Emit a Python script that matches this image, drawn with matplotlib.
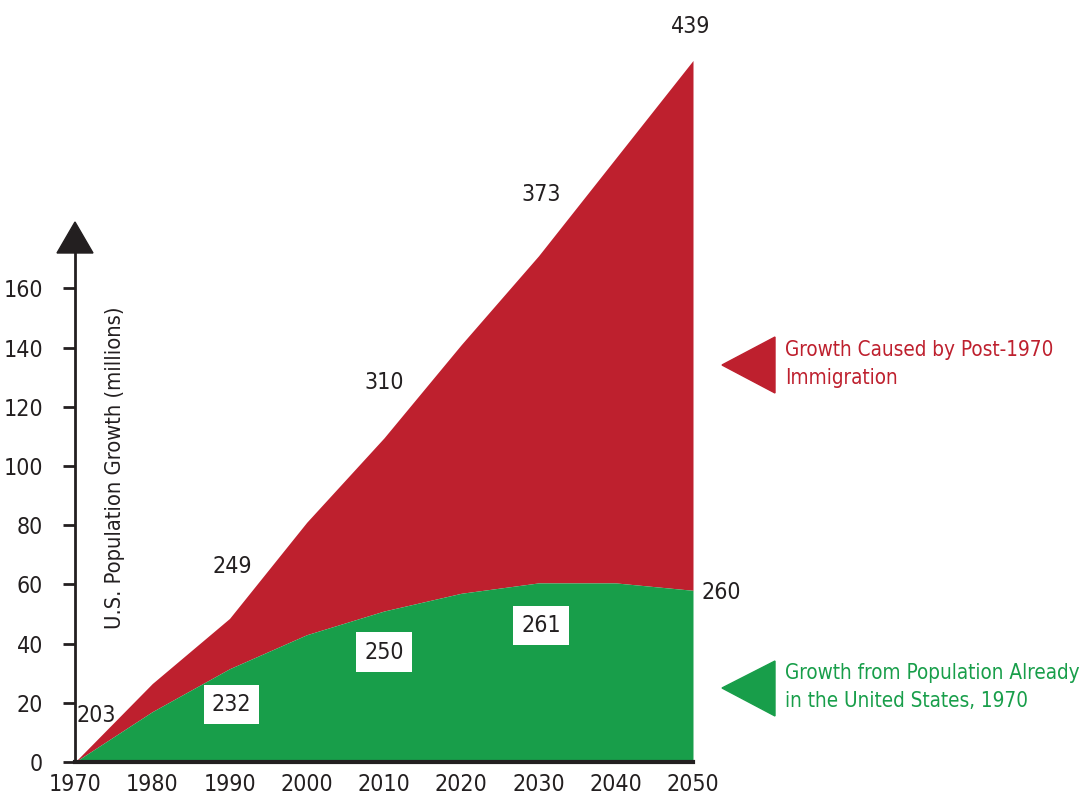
import matplotlib.pyplot as plt
from matplotlib import font_manager as fm
from matplotlib.patches import Polygon

# prefer a condensed face; fall back to the narrowest sans that is installed
faces = fm.fontManager.ttflist
if any(f.name == 'Liberation Sans Narrow' for f in faces):
    FAMILY, STRETCH, SCALE = 'Liberation Sans Narrow', 'normal', 1.0
elif any(f.name == 'DejaVu Sans' and f.stretch == 'condensed' for f in faces):
    FAMILY, STRETCH, SCALE = 'DejaVu Sans', 'condensed', 0.92
else:
    FAMILY, STRETCH, SCALE = 'Roboto', 'normal', 0.85
plt.rcParams['font.family'] = [FAMILY, 'DejaVu Sans']
plt.rcParams['font.stretch'] = STRETCH

# decades on the x axis
years = [1970, 1980, 1990, 2000, 2010, 2020, 2030, 2040, 2050]
# growth since 1970, millions
total_growth = [0, 26.5, 48.5, 81, 109.5, 141, 171, 204, 237]
native_growth = [0, 17, 31.5, 43, 51, 57, 60.5, 60.5, 58]

# population totals written on the chart
top_years = [1970, 1990, 2010, 2030, 2050]
top_labels = ['203', '249', '310', '373', '439']
box_years = [1990, 2010, 2030]
box_labels = ['232', '250', '261']
end_label = '260'

yticks = [0, 20, 40, 60, 80, 100, 120, 140, 160]

RED = '#be202e'
GREEN = '#189e4a'
INK = '#231f20'

FS = 18 * SCALE       # numbers
FS_LABEL = 17 * SCALE
FS_KEY = 16.2 * SCALE

W, H = 1085, 802
fig = plt.figure(figsize=(W / 100, H / 100), dpi=100)
# axes placed in pixel terms: 1970 -> x=75, 2050 -> x=693, 0 -> y=762
x0, x1 = 75, 693
y0 = 762
ppu = 2.96
ytop = 240
ax = fig.add_axes([x0 / W, (H - y0) / H, (x1 - x0) / W, ytop * ppu / H])
ax.set_xlim(1970, 2050)
ax.set_ylim(0, ytop)

ax.fill_between(years, native_growth, total_growth, color=RED, lw=0)
ax.fill_between(years, 0, native_growth, color=GREEN, lw=0)

for s in ['top', 'right']:
    ax.spines[s].set_visible(False)
ax.spines['left'].set_bounds(0, 172)
ax.spines['left'].set_linewidth(2)
ax.spines['left'].set_color(INK)
ax.spines['bottom'].set_linewidth(3)
ax.spines['bottom'].set_color(INK)
ax.spines['left'].set_zorder(5)
ax.spines['bottom'].set_zorder(5)

ax.set_yticks(yticks)
ax.set_yticklabels([str(v) for v in yticks])
ax.tick_params(axis='y', direction='out', length=9, width=2, color=INK,
               pad=14, labelsize=FS, labelcolor=INK)
ax.set_xticks(years)
ax.set_xticklabels([str(y) for y in years])
ax.tick_params(axis='x', length=0, pad=8, labelsize=FS, labelcolor=INK)

# arrow head on top of the y axis
ax.add_patch(Polygon([(57 / W, 1 - 253 / H), (93 / W, 1 - 253 / H), (75 / W, 1 - 222 / H)],
                     closed=True, transform=fig.transFigure, color=INK, clip_on=False))

fig.text(115 / W, 1 - 468 / H, 'U.S. Population Growth (millions)', rotation=90,
         ha='center', va='center', fontsize=FS_LABEL, color=INK)

# totals above the red area
top_offsets = [(21, 46), (2.5, 52), (0, 55), (2.5, 61), (-2, 33.5)]
for yr, lab, off in zip(top_years, top_labels, top_offsets):
    v = total_growth[years.index(yr)]
    ax.annotate(lab, xy=(yr, v), xytext=off, textcoords='offset pixels',
                ha='center', va='center', fontsize=FS, color=INK, annotation_clip=False)

ax.annotate(end_label, xy=(2050, native_growth[-1]), xytext=(28.5, -2),
            textcoords='offset pixels', ha='center', va='center', fontsize=FS,
            color=INK, annotation_clip=False)

# boxed totals inside the green area
box_offsets = [(2, -36), (0, -41), (2.5, -43)]
for yr, lab, off in zip(box_years, box_labels, box_offsets):
    v = native_growth[years.index(yr)]
    ax.annotate(lab, xy=(yr, v), xytext=off, textcoords='offset pixels',
                ha='center', va='center', fontsize=FS, color=INK,
                bbox=dict(boxstyle='square,pad=0.35', fc='white', ec='none'))

# key markers and text on the right
def key(tip_y, top_y, bot_y, color, lines):
    fig.patches.append(Polygon([(722 / W, 1 - tip_y / H), (775 / W, 1 - top_y / H),
                                (775 / W, 1 - bot_y / H)], closed=True,
                               transform=fig.transFigure, color=color))
    fig.text(785 / W, 1 - (tip_y - 1) / H, lines, ha='left', va='center',
             fontsize=FS_KEY, color=color, linespacing=1.55)

key(365, 337, 393, RED, 'Growth Caused by Post-1970\nImmigration')
key(688, 661, 716, GREEN, 'Growth from Population Already\nin the United States, 1970')

fig.savefig('out.png', dpi=100)
